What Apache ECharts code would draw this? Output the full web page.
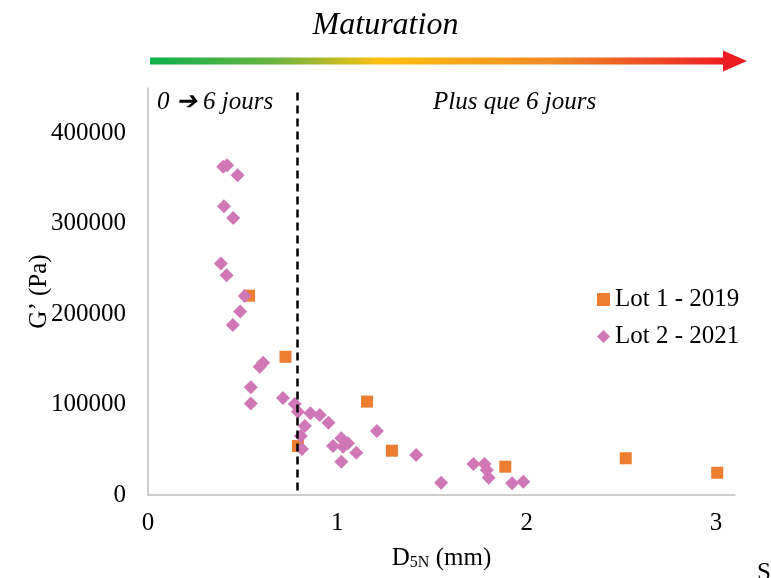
<!DOCTYPE html>
<html>
<head>
<meta charset="utf-8">
<script src="https://cdn.jsdelivr.net/npm/echarts@6/dist/echarts.min.js"></script>
<style>html,body{margin:0;padding:0;background:#fff}#c{width:771px;height:578px}</style>
</head>
<body>
<div id="c"></div>
<script>
// ---- data ----
const lot1Name = 'Lot 1 - 2019';
const lot2Name = 'Lot 2 - 2021';
const lot1X = [0.534, 0.726, 0.792, 1.157, 1.288, 1.887, 2.523, 3.006];
const lot1Y = [220400, 152800, 54100, 103300, 49000, 31300, 40600, 24600];
const lot2X = [0.397, 0.418, 0.473, 0.401, 0.45, 0.385, 0.415, 0.511, 0.487, 0.448,
               0.608, 0.590, 0.543, 0.543, 0.713, 0.775, 0.792, 0.858, 0.907, 0.953,
               0.828, 0.807, 0.813, 1.021, 1.056, 0.977, 1.03, 1.10, 1.021, 1.209,
               1.416, 1.548, 1.719, 1.777, 1.789, 1.799, 1.923, 1.982];
const lot2Y = [362800, 364700, 353600, 319300, 306400, 256000, 243100, 219900, 203000, 187900,
               146200, 141800, 119000, 101300, 107200, 100600, 92000, 90300, 88400, 79900,
               76200, 65200, 50800, 62700, 57100, 54100, 53400, 46700, 36800, 70700,
               44200, 13600, 34300, 34300, 27600, 19100, 12900, 14700];
const xTicks = [0, 1, 2, 3];
const yTicks = [0, 100000, 200000, 300000, 400000];
const thresholdX = 0.79;
const titleText = 'Maturation';
const zoneLeft = '0 ➔ 6 jours';
const zoneRight = 'Plus que 6 jours';

const serif = '"Liberation Serif","Times New Roman",serif';
const chart = echarts.init(document.getElementById('c'));
const zip = (xs, ys) => xs.map((x, i) => [x, ys[i]]);

chart.setOption({
  animation: false,
  backgroundColor: '#fff',
  grid: { left: 148, right: 36, top: 88, bottom: 83 },
  xAxis: {
    type: 'value', min: 0, max: 3.1, interval: 1,
    splitLine: { show: false },
    axisTick: { show: false },
    axisLine: { show: true, lineStyle: { color: '#bfbfbf', width: 1.5 } },
    axisLabel: { margin: 16, color: '#000', fontFamily: serif, fontSize: 25,
      formatter: v => xTicks.includes(v) ? String(v) : '' },
    name: '{a|D}{s|5N}{a| (mm)}', nameLocation: 'middle', nameGap: 50, nameMoveOverlap: false,
    nameTextStyle: { rich: {
      a: { fontFamily: serif, fontSize: 25, color: '#000' },
      s: { fontFamily: serif, fontSize: 16, color: '#000', verticalAlign: 'bottom', padding: [10, 0, 0, 0] }
    } }
  },
  yAxis: {
    type: 'value', min: 0, max: 450000, interval: 100000,
    splitLine: { show: false },
    axisTick: { show: false },
    axisLine: { show: true, lineStyle: { color: '#bfbfbf', width: 1.5 } },
    axisLabel: { margin: 22, color: '#000', fontFamily: serif, fontSize: 25,
      formatter: v => yTicks.includes(v) ? String(v) : '' },
    name: 'G’ (Pa)', nameLocation: 'middle', nameGap: 96, nameRotate: 90, nameMoveOverlap: false,
    nameTextStyle: { fontFamily: serif, fontSize: 25, color: '#000' }
  },
  legend: {
    orient: 'vertical', left: 592, top: 282, itemGap: 12, itemWidth: 13, itemHeight: 13,
    textStyle: { fontFamily: serif, fontSize: 25, color: '#000' },
    data: [{ name: lot1Name, icon: 'rect' }, { name: lot2Name, icon: 'diamond' }]
  },
  series: [
    { name: lot1Name, type: 'scatter', symbol: 'rect', symbolSize: 12,
      itemStyle: { color: '#ed7d31', opacity: 1 }, data: zip(lot1X, lot1Y), z: 2 },
    { name: lot2Name, type: 'scatter', symbol: 'diamond', symbolSize: 14,
      itemStyle: { color: '#d077b5', opacity: 1 }, data: zip(lot2X, lot2Y), z: 3 },
    { name: 'seuil', type: 'line', data: [], z: 5,
      markLine: { silent: true, symbol: 'none', z: 10, label: { show: false },
        lineStyle: { color: '#000', type: [8, 5], width: 2.5 },
        data: [[{ coord: [thresholdX, 5000] }, { coord: [thresholdX, 450000] }]] } }
  ],
  graphic: [
    { type: 'text', left: 'center', top: 10, style: { text: titleText, font: 'italic 32px ' + serif, fill: '#000' } },
    { type: 'rect', shape: { x: 150, y: 57.5, width: 576, height: 7 },
      style: { fill: new echarts.graphic.LinearGradient(0, 0, 1, 0, [
        { offset: 0, color: '#0bb04c' }, { offset: 0.22, color: '#6db33f' },
        { offset: 0.4, color: '#fdc010' }, { offset: 0.7, color: '#ef8a24' },
        { offset: 1, color: '#ed1c24' }]) } },
    { type: 'polygon', shape: { points: [[723, 50.5], [747, 61], [723, 71.5]] }, style: { fill: '#ed1c24' } },
    { type: 'text', left: 157, top: 90, style: { text: zoneLeft, font: 'italic 25px ' + serif, fill: '#000' } },
    { type: 'text', left: 433, top: 90, style: { text: zoneRight, font: 'italic 25px ' + serif, fill: '#000' } },
    { type: 'text', left: 757, top: 561, style: { text: 'S', font: '25px ' + serif, fill: '#000' } }
  ]
});
</script>
</body>
</html>
